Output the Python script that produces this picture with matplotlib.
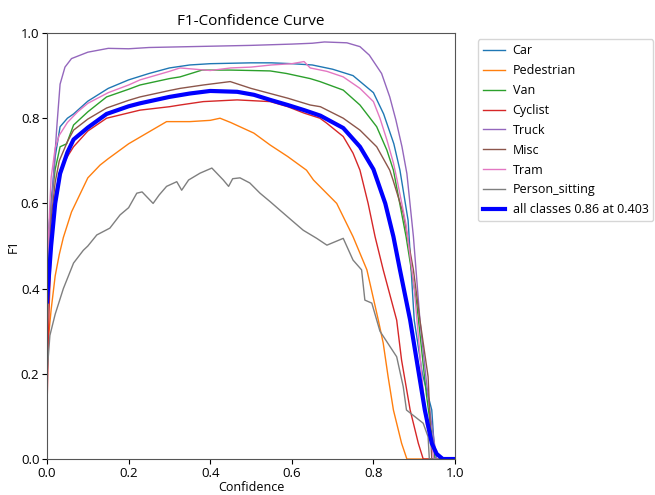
import matplotlib
matplotlib.use("Agg")
import matplotlib.pyplot as plt

# values (confidence, F1)
car_x = [0, 0.01, 0.02, 0.032, 0.05, 0.065, 0.1, 0.15, 0.2, 0.25, 0.3, 0.35, 0.4, 0.45, 0.5, 0.55, 0.6, 0.65,
         0.7, 0.75, 0.8, 0.825, 0.85, 0.865, 0.885, 0.9, 0.92, 0.943, 0.951, 1.0]
car_y = [0.5, 0.6, 0.71, 0.78, 0.8, 0.81, 0.84, 0.87, 0.89, 0.905, 0.918, 0.925, 0.928, 0.929, 0.93, 0.93, 0.928, 0.925,
         0.915, 0.9, 0.86, 0.81, 0.74, 0.678, 0.56, 0.326, 0.2, 0.115, 0.0, 0.0]

ped_x = [0, 0.01, 0.02, 0.03, 0.04, 0.06, 0.08, 0.1, 0.13, 0.15, 0.2, 0.25, 0.293, 0.35, 0.4, 0.424, 0.45, 0.507,
         0.547, 0.59, 0.636, 0.653, 0.71, 0.75, 0.784, 0.812, 0.824, 0.836, 0.849, 0.869, 0.882, 1.0]
ped_y = [0.25, 0.35, 0.43, 0.48, 0.52, 0.58, 0.62, 0.66, 0.69, 0.705, 0.74, 0.768, 0.792, 0.792, 0.795, 0.8, 0.79, 0.765,
         0.737, 0.71, 0.678, 0.655, 0.6, 0.522, 0.444, 0.326, 0.272, 0.193, 0.115, 0.037, 0.0, 0.0]

van_x = [0, 0.01, 0.02, 0.032, 0.048, 0.065, 0.1, 0.146, 0.2, 0.228, 0.3, 0.326, 0.38, 0.45, 0.5, 0.547, 0.587, 0.645,
         0.669, 0.726, 0.767, 0.808, 0.833, 0.849, 0.88, 0.906, 0.93, 0.951, 1.0]
van_y = [0.4, 0.6, 0.68, 0.733, 0.74, 0.784, 0.815, 0.85, 0.868, 0.878, 0.893, 0.897, 0.913, 0.913, 0.912, 0.911, 0.905, 0.893,
         0.886, 0.866, 0.831, 0.78, 0.725, 0.678, 0.522, 0.366, 0.15, 0.0, 0.0]

cyc_x = [0, 0.005, 0.01, 0.02, 0.032, 0.05, 0.065, 0.1, 0.146, 0.228, 0.3, 0.326, 0.383, 0.466, 0.547, 0.59, 0.63, 0.669,
         0.686, 0.726, 0.75, 0.767, 0.787, 0.804, 0.824, 0.857, 0.869, 0.89, 0.91, 0.922, 1.0]
cyc_y = [0.12, 0.35, 0.5, 0.62, 0.678, 0.71, 0.733, 0.77, 0.8, 0.819, 0.827, 0.831, 0.839, 0.843, 0.839, 0.827, 0.812, 0.8,
         0.788, 0.757, 0.718, 0.678, 0.6, 0.522, 0.444, 0.326, 0.232, 0.115, 0.037, 0.0, 0.0]

truck_x = [0, 0.008, 0.015, 0.024, 0.032, 0.044, 0.06, 0.1, 0.15, 0.2, 0.25, 0.3, 0.4, 0.5, 0.6, 0.65, 0.68, 0.735,
           0.767, 0.79, 0.82, 0.84, 0.855, 0.87, 0.882, 0.898, 0.914, 0.93, 0.94, 0.955, 1.0]
truck_y = [0.45, 0.55, 0.65, 0.78, 0.88, 0.92, 0.94, 0.955, 0.964, 0.963, 0.966, 0.967, 0.969, 0.971, 0.974, 0.976, 0.979, 0.977,
           0.968, 0.948, 0.905, 0.85, 0.796, 0.733, 0.67, 0.522, 0.326, 0.18, 0.1, 0.0, 0.0]

misc_x = [0, 0.01, 0.02, 0.03, 0.05, 0.065, 0.1, 0.146, 0.2, 0.228, 0.3, 0.326, 0.383, 0.449, 0.5, 0.59, 0.645, 0.67,
          0.726, 0.767, 0.808, 0.84, 0.848, 0.873, 0.898, 0.914, 0.934, 0.943, 1.0]
misc_y = [0.3, 0.56, 0.65, 0.7, 0.745, 0.772, 0.798, 0.824, 0.842, 0.85, 0.865, 0.87, 0.878, 0.886, 0.87, 0.847, 0.831, 0.827,
          0.8, 0.772, 0.733, 0.678, 0.655, 0.577, 0.444, 0.326, 0.193, 0.0, 0.0]

tram_x = [0, 0.01, 0.02, 0.03, 0.05, 0.075, 0.1, 0.15, 0.2, 0.228, 0.3, 0.326, 0.4, 0.45, 0.5, 0.55, 0.6, 0.63, 0.645,
          0.686, 0.726, 0.767, 0.8, 0.816, 0.833, 0.849, 0.858, 0.88, 0.9, 0.92, 0.93, 0.94, 0.948, 1.0]
tram_y = [0.45, 0.66, 0.73, 0.76, 0.79, 0.815, 0.835, 0.86, 0.878, 0.89, 0.91, 0.918, 0.912, 0.918, 0.92, 0.925, 0.928, 0.933, 0.918,
          0.91, 0.897, 0.87, 0.839, 0.8, 0.749, 0.695, 0.655, 0.55, 0.4, 0.18, 0.08, 0.05, 0.0, 0.0]

sit_x = [0, 0.007, 0.02, 0.04, 0.065, 0.089, 0.1, 0.122, 0.154, 0.179, 0.2, 0.22, 0.233, 0.26, 0.275, 0.293, 0.318,
         0.33, 0.347, 0.375, 0.404, 0.432, 0.445, 0.455, 0.473, 0.497, 0.522, 0.547, 0.571, 0.6, 0.628, 0.661, 0.686,
         0.726, 0.75, 0.771, 0.779, 0.796, 0.816, 0.857, 0.873, 0.881, 0.922, 0.934, 0.937, 1.0]
sit_y = [0.2, 0.29, 0.34, 0.4, 0.46, 0.49, 0.5, 0.526, 0.542, 0.573, 0.59, 0.624, 0.627, 0.6, 0.62, 0.64, 0.651,
         0.631, 0.655, 0.671, 0.683, 0.655, 0.64, 0.658, 0.66, 0.648, 0.624, 0.604, 0.584, 0.56, 0.537, 0.518, 0.502,
         0.518, 0.467, 0.444, 0.373, 0.366, 0.3, 0.24, 0.17, 0.115, 0.084, 0.052, 0.0, 0.0]

all_x = [0, 0.01, 0.02, 0.032, 0.05, 0.065, 0.1, 0.146, 0.2, 0.228, 0.3, 0.35, 0.4, 0.466, 0.507, 0.547, 0.59, 0.63,
         0.67, 0.726, 0.767, 0.8, 0.829, 0.849, 0.865, 0.89, 0.906, 0.926, 0.943, 0.955, 0.97, 1.0]
all_y = [0.37, 0.5, 0.6, 0.67, 0.72, 0.75, 0.778, 0.81, 0.828, 0.835, 0.85, 0.858, 0.864, 0.862, 0.855, 0.843, 0.831, 0.819,
         0.806, 0.777, 0.733, 0.68, 0.6, 0.522, 0.444, 0.326, 0.232, 0.115, 0.037, 0.012, 0.0, 0.0]

classes = ["Car", "Pedestrian", "Van", "Cyclist", "Truck", "Misc", "Tram", "Person_sitting"]
series = [(car_x, car_y), (ped_x, ped_y), (van_x, van_y), (cyc_x, cyc_y), (truck_x, truck_y),
          (misc_x, misc_y), (tram_x, tram_y), (sit_x, sit_y)]

fig = plt.figure(figsize=(6.55, 4.95), dpi=100)
ax = fig.add_axes([0.0718, 0.0727, 0.6229, 0.8606])

for name, (xs, ys) in zip(classes, series):
    ax.plot(xs, ys, linewidth=1, label=name)
ax.plot(all_x, all_y, linewidth=3, color="blue", label="all classes 0.86 at 0.403")

ax.set_xlim(0, 1)
ax.set_ylim(0, 1)
ax.set_xlabel("Confidence", family="Open Sans", fontsize=9, labelpad=1)
ax.set_ylabel("F1", family="Open Sans", fontsize=9, labelpad=1)
ax.set_title("F1-Confidence Curve", family="Open Sans", fontsize=11)
ax.tick_params(pad=2)
for lbl in ax.get_xticklabels() + ax.get_yticklabels():
    lbl.set_family("Open Sans")
    lbl.set_fontsize(9.5)
for sp in ax.spines.values():
    sp.set_color("#555555")

ax.legend(bbox_to_anchor=(1.04, 1), loc="upper left", prop={"family": "Open Sans", "size": 9},
          borderaxespad=0.5, handlelength=1.8, handletextpad=0.6, labelspacing=0.55)

fig.savefig("out.png", dpi=100)
